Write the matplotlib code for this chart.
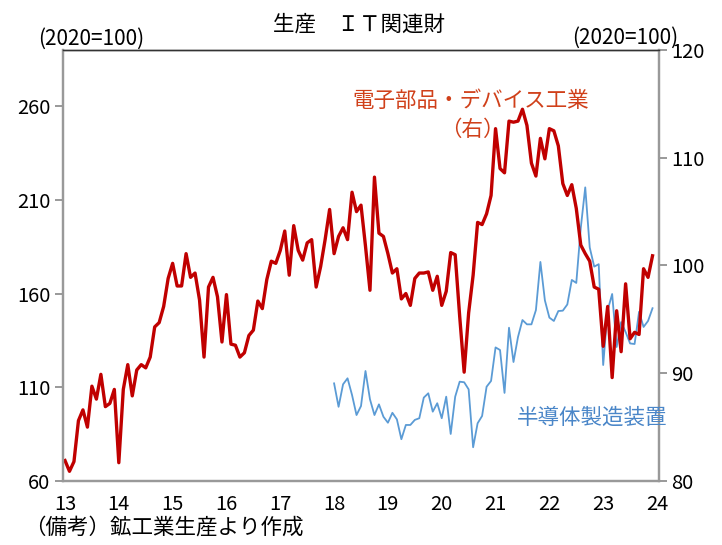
import numpy as np
import matplotlib.pyplot as plt

plt.rcParams['font.family'] = ['Noto Sans CJK JP', 'DejaVu Sans']

# 電子部品・デバイス工業 (右軸), 2013年1月～2023年12月 月次
denshi = [81.9, 80.9, 81.8, 85.6, 86.6, 85.0, 88.8, 87.6, 89.9, 86.9, 87.2, 88.5,
          81.7, 88.5, 90.8, 87.9, 90.3, 90.8, 90.5, 91.5, 94.3, 94.7, 96.2, 98.8,
          100.2, 98.1, 98.1, 101.1, 98.9, 99.3, 96.8, 91.5, 98.0, 98.9, 97.1, 92.9,
          97.3, 92.7, 92.6, 91.5, 91.9, 93.5, 94.0, 96.7, 96.0, 98.7, 100.4, 100.2,
          101.4, 103.2, 99.1, 103.7, 101.4, 100.5, 102.1, 102.4, 98.0, 99.9, 102.4, 105.2,
          101.1, 102.7, 103.5, 102.4, 106.8, 105.0, 105.6, 101.8, 97.7, 108.2, 103.0, 102.7,
          101.1, 99.3, 99.7, 96.9, 97.4, 96.3, 98.8, 99.3, 99.3, 99.4, 97.7, 99.0,
          96.3, 97.6, 101.2, 101.0, 95.3, 90.1, 95.6, 99.1, 104.0, 103.8, 104.8, 106.5,
          112.7, 109.0, 108.6, 113.4, 113.3, 113.4, 114.5, 113.0, 109.5, 108.3, 111.8, 109.9,
          112.7, 112.5, 111.1, 107.6, 106.5, 107.5, 105.3, 101.9, 101.1, 100.4, 98.0, 97.8,
          92.5, 96.2, 89.6, 95.8, 92.0, 98.3, 93.2, 93.8, 93.6, 99.7, 98.9, 100.9]

# 半導体製造装置 (左軸), 2018年1月～2023年12月 月次
handotai = [112.1, 99.6, 111.6, 114.8, 105.9, 95.2, 100.0, 118.7, 103.6, 95.2, 100.9, 94.3,
            91.1, 96.4, 92.9, 82.3, 89.9, 89.9, 92.6, 93.5, 104.5, 106.8, 97.0, 101.5,
            93.5, 105.0, 85.1, 105.0, 113.0, 112.7, 108.9, 78.0, 90.8, 94.7, 110.3, 113.4,
            131.3, 129.9, 107.0, 141.8, 123.5, 136.8, 145.9, 143.6, 143.6, 151.2, 176.9, 156.4,
            147.2, 145.4, 150.7, 150.9, 154.2, 167.3, 165.7, 195.0, 216.7, 184.6, 174.4, 175.7,
            121.9, 151.2, 159.8, 131.5, 144.8, 139.5, 133.4, 133.1, 150.3, 142.2, 145.4, 152.2]

x_red = 2013 + np.arange(len(denshi)) / 12
x_blue = 2018 + np.arange(len(handotai)) / 12

years = list(range(2013, 2025))
year_labels = [str(y % 100) for y in years]
left_ticks = [60, 110, 160, 210, 260]
right_ticks = [80, 90, 100, 110, 120]

W, H = 722, 545
fig = plt.figure(figsize=(W / 100, H / 100), dpi=100)
ax = fig.add_axes([63 / W, 1 - 481 / H, (659 - 63) / W, (481 - 50) / H])
ax2 = ax.twinx()

ax.plot(x_blue, handotai, color='#5B9BD5', lw=1.3)
ax2.plot(x_red, denshi, color='#C00000', lw=2.4)

ax.set_xlim(2012.963, 2024.037)
ax.set_ylim(60, 290)
ax2.set_ylim(80, 120)
ax.set_xticks(years)
ax.set_xticklabels(year_labels)
ax.set_yticks(left_ticks)
ax2.set_yticks(right_ticks)

gray = '#999999'
for a in (ax, ax2):
    for s in ('left', 'right', 'bottom'):
        a.spines[s].set_color(gray)
        a.spines[s].set_linewidth(1.6)
    a.spines['top'].set_color('#333333')
    a.spines['top'].set_linewidth(1.0)
    a.tick_params(axis='y', direction='out', length=6, width=1.4, color=gray,
                  labelsize=14.5, pad=3)
ax.tick_params(axis='x', length=0, labelsize=14.5, pad=9)

fig.text(359 / W, 1 - 25 / H, '生産　ＩＴ関連財', ha='center', va='center', fontsize=15.5)
fig.text(38 / W, 1 - 39 / H, '(2020=100)', ha='left', va='center', fontsize=15)
fig.text(678 / W, 1 - 38 / H, '(2020=100)', ha='right', va='center', fontsize=15)
fig.text(24 / W, 1 - 528 / H, '（備考）鉱工業生産より作成', ha='left', va='center', fontsize=15.5)

red_txt = '#D0401A'
fig.text(471 / W, 1 - 101 / H, '電子部品・デバイス工業', ha='center', va='center',
         fontsize=15.5, color=red_txt)
fig.text(472 / W, 1 - 130 / H, '（右）', ha='center', va='center',
         fontsize=15.5, color=red_txt)
fig.text(592 / W, 1 - 418 / H, '半導体製造装置', ha='center', va='center',
         fontsize=15.5, color='#4A86C8')

fig.savefig('out.png', dpi=100)
